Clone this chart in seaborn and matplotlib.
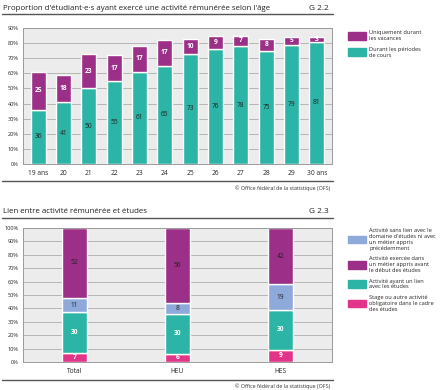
import numpy as np
import pandas as pd
import matplotlib.pyplot as plt
import seaborn as sns
from matplotlib import font_manager
from matplotlib.lines import Line2D
from matplotlib.patches import Patch

# G 2.2 data
ages = ['19 ans', '20', '21', '22', '23', '24', '25', '26', '27', '28', '29', '30 ans']
cours = [36, 41, 50, 55, 61, 65, 73, 76, 78, 75, 79, 81]
vacances = [25, 18, 23, 17, 17, 17, 10, 9, 7, 8, 5, 3]

# G 2.3 data
groupes = ['Total', 'HEU', 'HES']
stage = [7, 6, 9]
lien = [30, 30, 30]
sans_lien = [11, 8, 19]
metier = [52, 56, 42]

PURPLE = '#9c3088'
TEAL = '#2cb5a6'
BLUE = '#8eaadb'
PINK = '#e2358a'
BG = '#ececec'

sns.set_style('white')
# condensed look if available
names = {f.name for f in font_manager.fontManager.ttflist}
narrow = 'Liberation Sans Narrow' in names
main_font = 'Liberation Sans Narrow' if narrow else 'Open Sans'
plt.rcParams['font.family'] = [main_font, 'DejaVu Sans']
k = 1.0 if narrow else 0.85  # shrink if wide font

W, H = 440, 390
fig = plt.figure(figsize=(W / 100, H / 100), dpi=100)


def px_axes(x0, y0, x1, y1):
    return fig.add_axes([x0 / W, 1 - y1 / H, (x1 - x0) / W, (y1 - y0) / H])


def header(y_title, y_line, text, code):
    fig.text(3 / W, 1 - y_title / H, text, fontsize=6.7 * k, va='center', color='#222')
    fig.text(329 / W, 1 - y_title / H, code, fontsize=7.0 * k, va='center', ha='right', color='#222')
    fig.add_artist(Line2D([2 / W, 333 / W], [1 - y_line / H] * 2, color='#555', lw=1))


def footer(y_line, y_text):
    fig.add_artist(Line2D([2 / W, 333 / W], [1 - y_line / H] * 2, color='#555', lw=1))
    fig.text(330 / W, 1 - y_text / H, '© Office fédéral de la statistique (OFS)',
             fontsize=4.6 * k, ha='right', va='center', color='#333')


def style_axes(ax, ymax):
    ax.set_facecolor(BG)
    ax.set_ylim(0, ymax)
    ax.set_yticks(np.arange(0, ymax + 1, 10))
    ax.set_yticklabels([f'{v}%' for v in range(0, ymax + 1, 10)], fontsize=4.8 * k)
    ax.grid(axis='y', color='#b5b5b5', lw=0.7)
    ax.set_axisbelow(True)
    ax.tick_params(axis='x', labelsize=5.6 * k, length=0, pad=4)
    ax.tick_params(axis='y', length=0, pad=3)
    for s in ax.spines.values():
        s.set_color('#9a9a9a')
        s.set_linewidth(0.7)
    ax.set_xlabel('')
    ax.set_ylabel('')


def annotate(ax, bottoms, values, color):
    for i, (b, v) in enumerate(zip(bottoms, values)):
        ax.text(i, b + v / 2, str(v), ha='center', va='center', fontsize=5.6 * k,
                color=color, fontweight='bold' if color == 'white' else 'normal')


legend_kw = dict(loc='upper left', frameon=False, fontsize=4.8 * k, handlelength=3.2,
                 handleheight=1.7, labelspacing=1.0, borderaxespad=0, handletextpad=0.5)

# ---- G 2.2 ----
header(8, 14, "Proportion d'étudiant·e·s ayant exercé une activité rémunérée selon l'âge", 'G 2.2')
ax1 = px_axes(23, 28, 332, 164)
df1 = pd.DataFrame({'age': ages, 'cours': cours, 'vacances': vacances})
sns.barplot(data=df1, x='age', y='cours', color=TEAL, width=0.6, saturation=1, ax=ax1)
sns.barplot(data=df1, x='age', y='vacances', color=PURPLE, width=0.6, saturation=1,
            bottom=df1['cours'], ax=ax1)
style_axes(ax1, 90)
ax1.set_xlim(-0.6, len(ages) - 0.4)
annotate(ax1, [0] * len(ages), cours, '#222')
annotate(ax1, cours, vacances, 'white')
footer(181, 188)

fig.legend(handles=[Patch(color=PURPLE, label='Uniquement durant\nles vacances'),
                    Patch(color=TEAL, label='Durant les périodes\nde cours')],
           bbox_to_anchor=(346 / W, 1 - 28 / H), **legend_kw)

# ---- G 2.3 ----
header(212, 218, 'Lien entre activité rémunérée et études', 'G 2.3')
ax2 = px_axes(23, 228, 332, 362)
df2 = pd.DataFrame({'groupe': groupes, 'stage': stage, 'lien': lien,
                    'sans_lien': sans_lien, 'metier': metier})
base = np.zeros(len(groupes))
layers = [('stage', PINK, 'white'), ('lien', TEAL, 'white'),
          ('sans_lien', BLUE, '#222'), ('metier', PURPLE, '#222')]
for col, c, tc in layers:
    sns.barplot(data=df2, x='groupe', y=col, color=c, width=0.25, saturation=1,
                bottom=base.copy(), ax=ax2)
    annotate(ax2, base, df2[col].tolist(), tc)
    base = base + df2[col].values
style_axes(ax2, 100)
footer(380, 386)

fig.legend(handles=[Patch(color=BLUE, label="Activité sans lien avec le\ndomaine d'études ni avec\nun métier appris\nprécédemment"),
                    Patch(color=PURPLE, label='Activité exercée dans\nun métier appris avant\nle début des études'),
                    Patch(color=TEAL, label='Activité ayant un lien\navec les études'),
                    Patch(color=PINK, label='Stage ou autre activité\nobligatoire dans le cadre\ndes études')],
           bbox_to_anchor=(346 / W, 1 - 226 / H), **legend_kw)

fig.savefig('out.png', dpi=100)
